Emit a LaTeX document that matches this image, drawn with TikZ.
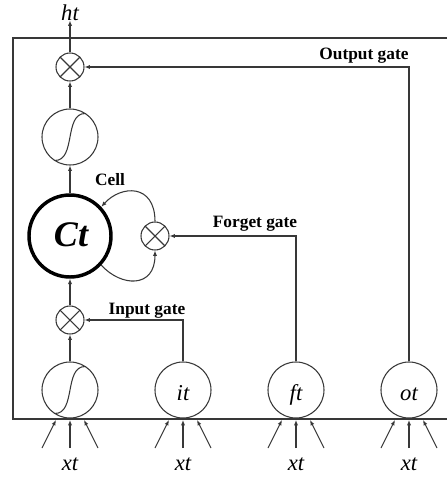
\documentclass[tikz,border=0pt]{standalone}
\usepackage{fontspec}
\setmainfont{Liberation Serif}
\usetikzlibrary{arrows.meta,calc}
\begin{document}
\begin{tikzpicture}[x=0.75pt,y=-0.75pt,
  ln/.style={draw=black!78, line width=0.8pt},
  mul/.style={circle, ln, minimum size=21pt, inner sep=0pt,
    path picture={\draw[black!78,line width=0.8pt]
      (path picture bounding box.south west) -- (path picture bounding box.north east)
      (path picture bounding box.north west) -- (path picture bounding box.south east);}},
  gatec/.style={circle, ln, minimum size=42pt, inner sep=0pt},
  sig/.style={gatec, path picture={\draw[black!78,line width=0.8pt,shift={(path picture bounding box.center)}]
      (-15,23.5) .. controls (6,23.5) and (-6,-23.5) .. (15,-23.5);}},
  cellc/.style={circle, draw=black, line width=2.6pt, minimum size=61.5pt, inner sep=0pt},
  arr/.style={ln, -{Latex[length=4pt,width=3.2pt]}},
  lab/.style={font=\bfseries\fontsize{13}{13}\selectfont, anchor=base, inner sep=0pt},
  itl/.style={font=\itshape\fontsize{17}{17}\selectfont, anchor=base, inner sep=0pt}
]
\useasboundingbox (0,0) rectangle (447,479);
% frame
\draw[ln] (447,38) -- (13,38) -- (13,419) -- (447,419);
% nodes
\node[mul] (mo) at (70,67) {};
\node[sig] (tt) at (70,137) {};
\node[cellc] (ct) at (70,236) {};
\node[mul] (mf) at (155,236) {};
\node[mul] (mi) at (70,320) {};
\node[sig] (tin) at (70,390) {};
\node[gatec] (ig) at (183,390) {};
\node[gatec] (fg) at (296,390) {};
\node[gatec] (og) at (409,390) {};
% texts
\node[itl] (ht) at (70,20) {ht};
\node[font=\bfseries\itshape\fontsize{27}{27}\selectfont, anchor=base, inner sep=0pt] (ctt) at (71,246) {Ct};
\node[itl] (itt) at (183,400) {it};
\node[itl] (ftt) at (296,400) {ft};
\node[itl] (ott) at (409,400) {ot};
\node[lab] (lo) at (364,59) {Output gate};
\node[lab] (lf) at (255,227) {Forget gate};
\node[lab] (lc) at (110,185) {Cell};
\node[lab] (li) at (147,314) {Input gate};
% main column
\draw[arr] (tin) -- (mi);
\draw[arr] (mi) -- (ct);
\draw[arr] (ct) -- (tt);
\draw[arr] (tt) -- (mo);
\draw[arr] (mo) -- (ht.south);
% gate lines
\draw[arr] (ig.north) |- (mi.east);
\draw[arr] (fg.north) |- (mf.east);
\draw[arr] (og.north) |- (mo.east);
% cell loop
\draw[arr] (mf.north) .. controls ($(mf.north)+(0,-38)$) and ($(ct.43)+(20,-22)$) .. (ct.43);
\draw[arr] (ct.-43) .. controls ($(ct.-43)+(20,22)$) and ($(mf.south)+(0,38)$) .. (mf.south);
% inputs
\foreach \g/\n in {tin/a,ig/b,fg/c,og/d}{
  \coordinate (\n l0) at ($(\g)+(-28,58)$);
  \coordinate (\n l1) at ($(\g)+(-14,30)$);
  \coordinate (\n m0) at ($(\g)+(0,58)$);
  \coordinate (\n m1) at ($(\g)+(0,30)$);
  \coordinate (\n r0) at ($(\g)+(28,58)$);
  \coordinate (\n r1) at ($(\g)+(14,30)$);
  \draw[arr] (\n l0) -- (\n l1);
  \draw[arr] (\n m0) -- (\n m1);
  \draw[arr] (\n r0) -- (\n r1);
  \node[itl] (x\n) at ($(\g)+(0,80.5)$) {xt};
}
\end{tikzpicture}
\end{document}
